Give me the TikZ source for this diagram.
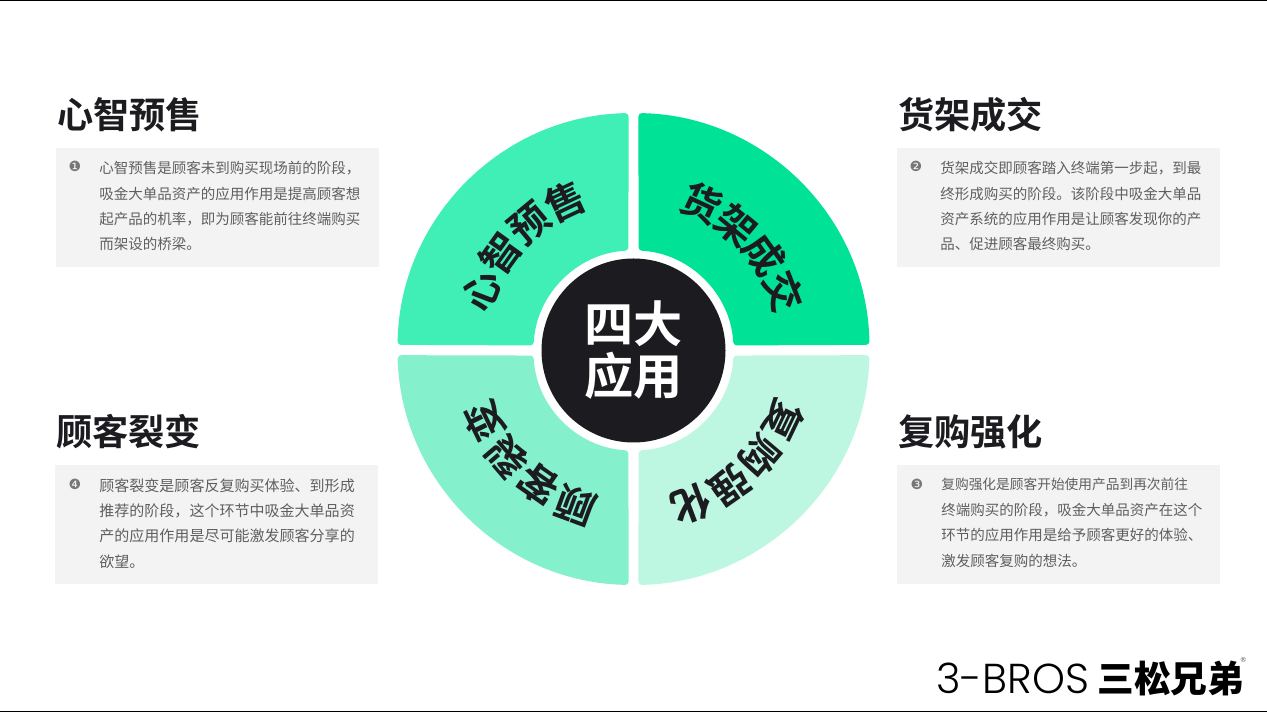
\documentclass[tikz,border=0pt]{standalone}
\usepackage{fontspec}
\setmainfont[BoldFont={Noto Sans CJK SC Bold}]{Noto Sans CJK SC}
\newfontfamily\cjkheavy{Noto Sans CJK SC Black}
\newfontfamily\logofont[UprightFont=* Light]{Poppins}
\newfontfamily\numfont{DejaVu Sans}
\usetikzlibrary{calc}
\definecolor{inkdark}{HTML}{1C1B20}
\definecolor{bodygrey}{HTML}{5F5F5F}
\definecolor{panelgrey}{HTML}{F3F3F3}
\definecolor{greenone}{HTML}{3FEFB5}
\definecolor{greentwo}{HTML}{00E396}
\definecolor{greenthree}{HTML}{BDF7E2}
\definecolor{greenfour}{HTML}{84F0CC}
\tikzset{
  sector/.style={rounded corners=0.07cm},
  panel/.style={fill=panelgrey, minimum width=6.46cm, minimum height=2.38cm, anchor=north west, inner sep=0pt},
  heading/.style={anchor=west, inner sep=0pt, text=inkdark, font=\fontsize{20.6}{24}\selectfont\bfseries},
  bodytext/.style={anchor=north west, align=left, inner sep=0pt, text=bodygrey},
  numdot/.style={inner sep=0pt, text=bodygrey!85, font=\numfont\fontsize{8}{10}\selectfont},
  arcchar/.style={inner sep=0pt, text=inkdark, font=\fontsize{22.5}{24}\selectfont\bfseries},
}
\begin{document}
\begin{tikzpicture}
\useasboundingbox (0,0) rectangle (25.34,14.26);
\fill[white] (0,0) rectangle (25.34,14.26);

% Page rules
\draw[line width=0.02cm] (0,14.25) -- (25.34,14.25);
\draw[line width=0.02cm] (0,0.02) -- (25.34,0.02);

% Ring of four sectors
\coordinate (octr) at (12.67,7.28);
\coordinate (ictr) at (12.67,7.25);
\fill[greenone, sector] ($(octr)+(91.2:4.72)$) arc[start angle=91.2, end angle=179, radius=4.72] -- ($(ictr)+(177.1:2)$) arc[start angle=177.1, end angle=92.9, radius=2] -- cycle;
\fill[greentwo, sector] ($(octr)+(88.8:4.72)$) arc[start angle=88.8, end angle=1, radius=4.72] -- ($(ictr)+(2.9:2)$) arc[start angle=2.9, end angle=87.1, radius=2] -- cycle;
\fill[greenthree, sector] ($(octr)+(271.2:4.72)$) arc[start angle=271.2, end angle=358.5, radius=4.72] -- ($(ictr)+(357.1:2)$) arc[start angle=357.1, end angle=272.9, radius=2] -- cycle;
\fill[greenfour, sector] ($(octr)+(268.8:4.72)$) arc[start angle=268.8, end angle=181.5, radius=4.72] -- ($(ictr)+(182.9:2)$) arc[start angle=182.9, end angle=267.1, radius=2] -- cycle;

% Centre disc
\node[circle, fill=inkdark, minimum size=3.68cm, inner sep=0pt, align=center, text=white, font=\fontsize{28}{29.6}\selectfont\bfseries] (hub) at (ictr) {四大\\应用};

% Letters on the ring
\begin{scope}[shift={(octr)}]
\node[arcchar, rotate=69] (xin) at (159:3.26) {心};
\node[arcchar, rotate=54.3] (zhi) at (144.3:3.26) {智};
\node[arcchar, rotate=39.7] (yu) at (129.7:3.26) {预};
\node[arcchar, rotate=25] (shou) at (115:3.26) {售};
\node[arcchar, rotate=-25] (huo) at (65:3.22) {货};
\node[arcchar, rotate=-39.7] (jia) at (50.3:3.22) {架};
\node[arcchar, rotate=-54.3] (cheng) at (35.7:3.22) {成};
\node[arcchar, rotate=-69] (jiao) at (21:3.22) {交};
\node[arcchar, rotate=-115.6] (fu) at (-25.6:3.32) {复};
\node[arcchar, rotate=-130.3] (gou) at (-40.3:3.32) {购};
\node[arcchar, rotate=-145] (qiang) at (-55:3.32) {强};
\node[arcchar, rotate=-159.5] (hua) at (-69.5:3.32) {化};
\node[arcchar, rotate=159.8] (gu) at (249.8:3.32) {顾};
\node[arcchar, rotate=145] (ke) at (235:3.32) {客};
\node[arcchar, rotate=130.5] (lie) at (220.5:3.32) {裂};
\node[arcchar, rotate=116] (bian) at (206:3.32) {变};
\end{scope}

% Top left
\node[heading] (headxin) at (1.14,11.96) {心智预售};
\node[panel] (panelxin) at (1.12,11.3) {};
\node[numdot] (numxin) at (1.5,10.93) {❶};
\node[bodytext, font=\fontsize{8.25}{14.45}\selectfont] (textxin) at (1.98,11.04) {心智预售是顾客未到购买现场前的阶段，\\吸金大单品资产的应用作用是提高顾客想\\起产品的机率，即为顾客能前往终端购买\\而架设的桥梁。};

% Top right
\node[heading] (headhuo) at (17.96,11.96) {货架成交};
\node[panel] (panelhuo) at (17.94,11.3) {};
\node[numdot] (numhuo) at (18.32,10.93) {❷};
\node[bodytext, font=\fontsize{8.25}{14.45}\selectfont] (texthuo) at (18.8,11.04) {货架成交即顾客踏入终端第一步起，到最\\终形成购买的阶段。该阶段中吸金大单品\\资产系统的应用作用是让顾客发现你的产\\品、促进顾客最终购买。};

% Bottom left
\node[heading] (headgu) at (1.12,5.62) {顾客裂变};
\node[panel] (panelgu) at (1.1,4.96) {};
\node[numdot] (numgu) at (1.5,4.58) {❹};
\node[bodytext, font=\fontsize{8.55}{14.45}\selectfont] (textgu) at (1.98,4.7) {顾客裂变是顾客反复购买体验、到形成\\推荐的阶段，这个环节中吸金大单品资\\产的应用作用是尽可能激发顾客分享的\\欲望。};

% Bottom right
\node[heading] (headfu) at (17.96,5.62) {复购强化};
\node[panel] (panelfu) at (17.94,4.96) {};
\node[numdot] (numfu) at (18.34,4.58) {❸};
\node[bodytext, font=\fontsize{8.25}{14.45}\selectfont] (textfu) at (18.82,4.7) {{\fontsize{7.8}{14.45}\selectfont 复购强化是顾客开始使用产品到再次前往}\\终端购买的阶段，吸金大单品资产在这个\\环节的应用作用是给予顾客更好的体验、\\激发顾客复购的想法。};

% Logo
\node[anchor=west, inner sep=0pt, font=\logofont\fontsize{23.8}{28}\selectfont] (logolatin) at (18.72,0.7) {3-BROS};
\node[anchor=west, inner sep=0pt, font=\cjkheavy\fontsize{20.9}{24}\selectfont] (logocjk) at (21.94,0.7) {三松兄弟};
\node[inner sep=0pt, text=bodygrey, font=\numfont\fontsize{4}{5}\selectfont] (logomark) at (24.87,1.06) {®};
\end{tikzpicture}
\end{document}
